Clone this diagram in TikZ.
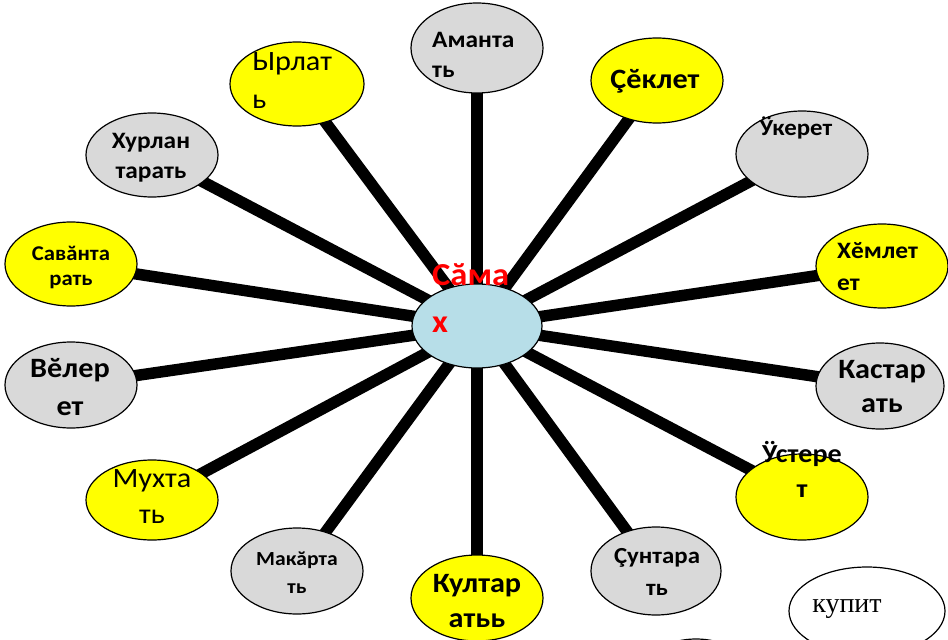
\documentclass[tikz,border=0pt]{standalone}
\usepackage{fontspec}
\usetikzlibrary{shapes.geometric,backgrounds}
\newfontfamily\calfont[FakeStretch=1.08]{Carlito}
\newfontfamily\timesfont{Liberation Serif}
\newcommand\twoc[3]{\vtop{\baselineskip=#1\lineskiplimit=-20pt\halign{\hfil##\hfil\cr#2\cr#3\cr}}}
\newcommand\twol[3]{\vtop{\baselineskip=#1\lineskiplimit=-20pt\halign{##\hfil\cr#2\cr#3\cr}}}
\definecolor{yel}{HTML}{FFFF00}
\definecolor{gry}{HTML}{D9D9D9}
\definecolor{lblue}{HTML}{B7DEE8}
\definecolor{red}{HTML}{FF0000}
\begin{document}
\begin{tikzpicture}[x=1pt,y=-1pt,
  bub/.style={ellipse,draw=black,line width=1.2pt,inner sep=0pt},
  yb/.style={bub,fill=yel},
  gb/.style={bub,fill=gry},
  spoke/.style={line width=11.5pt,black},
  lbl/.style={inner sep=0pt,anchor=base},
  lbll/.style={inner sep=0pt,anchor=base west},
  fb/.style={font=\calfont\bfseries\fontsize{#1}{#1}\selectfont},
  fr/.style={font=\calfont\fontsize{#1}{#1}\selectfont}]
\useasboundingbox (0,0) rectangle (948,640);
% bubbles
\node[bub,fill=lblue,minimum width=130pt,minimum height=84pt] (c) at (477,326) {};
\node[gb,minimum width=132pt,minimum height=90pt] (am) at (477,48) {};
\node[yb,minimum width=134pt,minimum height=84pt] (yr) at (297,84) {};
\node[yb,minimum width=132pt,minimum height=85pt] (ch) at (657,80.5) {};
\node[gb,minimum width=132pt,minimum height=86pt] (uk) at (802,154) {};
\node[gb,minimum width=132pt,minimum height=84pt] (hu) at (152,155) {};
\node[yb,minimum width=132pt,minimum height=84pt] (sa) at (71,264) {};
\node[gb,minimum width=132pt,minimum height=86pt] (ve) at (71,385) {};
\node[yb,minimum width=132pt,minimum height=80pt] (mu) at (152,500) {};
\node[yb,minimum width=132pt,minimum height=84pt] (hm) at (882,266) {};
\node[gb,minimum width=128pt,minimum height=86pt] (ka) at (880,386) {};
\node[yb,minimum width=132pt,minimum height=86pt] (us) at (802,497) {};
\node[gb,minimum width=132pt,minimum height=86pt] (ma) at (297,571) {};
\node[yb,minimum width=132pt,minimum height=86pt] (ku) at (477,598) {};
\node[gb,minimum width=130pt,minimum height=88pt] (su) at (656,571) {};
\node[bub,fill=white,minimum width=156pt,minimum height=88pt] (kp) at (867,611) {};
\node[bub,fill=white,minimum width=120pt,minimum height=88pt] (pe) at (696,683) {};
% spokes
\begin{scope}[on background layer]
\foreach \n in {am,yr,ch,uk,hu,sa,ve,mu,hm,ka,us,ma,ku,su}
  \draw[spoke] (c.center) -- (\n.center);
\end{scope}
% labels
\node[lbll,fb=23.5] (tam) at (432,47) {\twol{30pt}{Аманта}{ть}};
\node[lbll,fr=28] (tyr) at (252,70) {\twol{38pt}{Ырлат}{ь}};
\node[lbl,fb=28] (tch) at (655,88) {Çĕклет};
\node[lbl,fb=23] (tuk) at (796,135) {Ӱкерет};
\node[lbl,fb=23.5] (thu) at (151,148) {\twoc{30pt}{Хурлан}{тарать}};
\node[lbl,fb=21] (tsa) at (71,260) {\twoc{25pt}{Савăнта}{рать}};
\node[lbl,fb=28] (tve) at (70,377) {\twoc{38pt}{Вĕлер}{ет}};
\node[lbl,fr=28] (tmu) at (152,487) {\twoc{36pt}{Мухта}{ть}};
\node[lbll,fb=23.5] (thm) at (837,258) {\twol{32pt}{Хĕмлет}{ет}};
\node[lbl,fb=28] (tka) at (882,378) {\twoc{34pt}{Кастар}{ать}};
\node[lbl,fb=26] (tus) at (802,462) {\twoc{35pt}{Ӱстере}{т}};
\node[lbl,fb=20] (tma) at (297,565) {\twoc{28pt}{Макăрта}{ть}};
\node[lbl,fb=28] (tku) at (477,592) {\twoc{35pt}{Култар}{атьь}};
\node[lbl,fb=23] (tsu) at (657,563) {\twoc{32pt}{Çунтара}{ть}};
\node[lbll,fb=32,text=red] (tc) at (432,285) {\twol{47pt}{Сăма}{х}};
\node[lbl,font=\timesfont\fontsize{28}{28}\selectfont] (tkp) at (847,612) {купит};
\end{tikzpicture}
\end{document}
